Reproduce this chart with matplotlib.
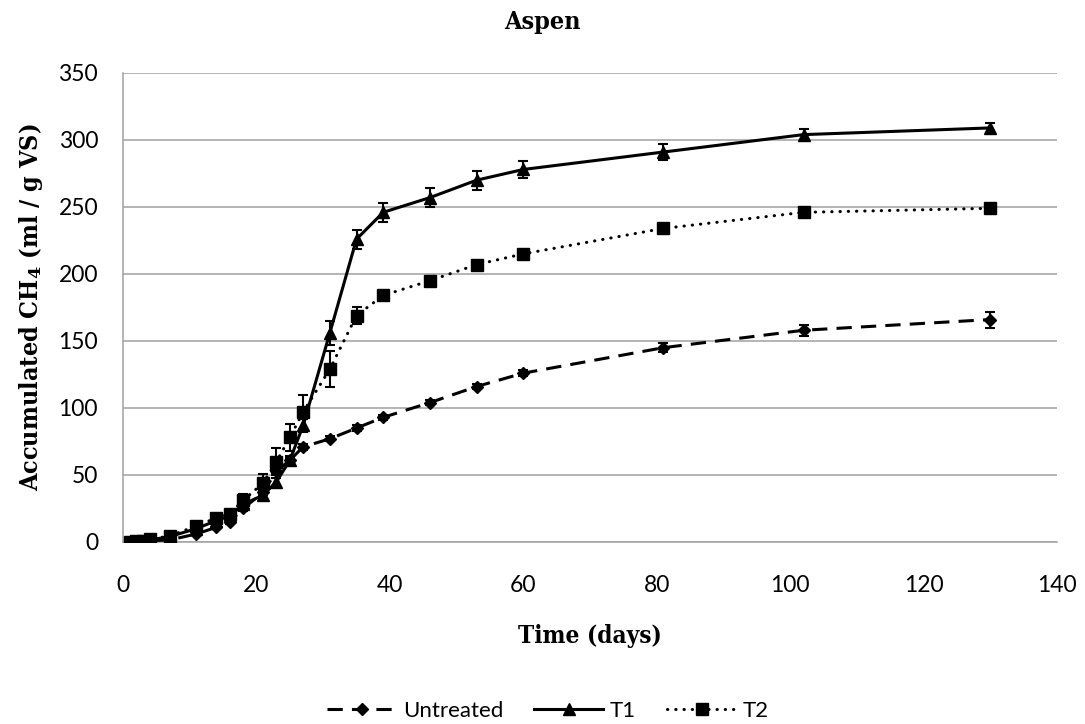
import numpy as np
import matplotlib
matplotlib.use('Agg')
import matplotlib.pyplot as plt

# sampling days
days = [1, 2, 3, 4, 7, 11, 14, 16, 18, 21, 23, 25, 27, 31, 35, 39, 46, 53, 60, 81, 102, 130]

untreated = [0, 0, 0.5, 1, 1.5, 6, 11, 15, 25, 37, 53, 61, 71, 77, 85, 93, 104, 116, 126, 145, 158, 166]
untreated_err = [0, 0, 0, 0, 0.5, 1, 1, 1.5, 2, 2, 2, 2, 2, 2, 2, 2, 2, 2, 2, 3.5, 4, 6]

t1 = [0, 0.5, 1, 1.5, 4, 10, 16, 19.5, 28, 35, 45, 61, 87, 156, 226, 246, 257, 270, 278, 291, 304, 309]
t1_err = [0, 0, 0, 0, 0.5, 1, 1, 1.5, 2, 2, 3, 3, 5, 9, 7, 7, 7, 7, 6, 6, 4, 4]

t2 = [0, 0.5, 1, 2, 4.5, 12, 18, 21, 31, 44, 60, 78, 97, 129, 169, 184, 195, 207, 215, 234, 246, 249]
t2_err = [0, 0, 0, 0, 0.5, 1, 1, 2, 5, 7, 10, 10, 13, 13.5, 6, 2, 2, 2, 2, 2, 2, 2]

plt.rcParams['mathtext.fontset'] = 'dejavuserif'

fig = plt.figure(figsize=(10.85, 7.24), dpi=100)
ax = fig.add_axes([0.1134, 0.2514, 0.8608, 0.6478])

ekw = dict(fmt='none', ecolor='k', elinewidth=1.5, capsize=3.8, capthick=1.5)

ax.errorbar(days, untreated, yerr=untreated_err, zorder=3, **ekw)
ax.errorbar(days, t1, yerr=t1_err, zorder=4, **ekw)
ax.errorbar(days, t2, yerr=t2_err, zorder=3, **ekw)

ax.plot(days, untreated, color='k', marker='D', ms=6.5, lw=2.2,
        linestyle=(0, (5, 3)), label='Untreated', zorder=3)
ax.plot(days, t1, color='k', marker='^', ms=8.5, lw=2.2,
        linestyle='-', label='T1', zorder=4)
ax.plot(days, t2, color='k', marker='s', ms=8, lw=2.2,
        linestyle=(0, (0.1, 2.6)), dash_capstyle='round', label='T2', zorder=3)

ax.set_xlim(0, 140)
ax.set_ylim(0, 350)
ax.set_xticks(np.arange(0, 141, 20))
ax.set_yticks(np.arange(0, 351, 50))
ax.grid(axis='y', color='#a0a0a0', lw=1.1)
ax.set_axisbelow(True)
for s in ['top', 'right']:
    ax.spines[s].set_visible(False)
for s in ['left', 'bottom']:
    ax.spines[s].set_color('#a0a0a0')
    ax.spines[s].set_linewidth(1.1)
ax.tick_params(axis='y', length=0, labelsize=16.5, pad=18)
ax.tick_params(axis='x', length=0, labelsize=16.5, pad=24)
for lab in ax.get_xticklabels() + ax.get_yticklabels():
    lab.set_family('Lato')

fig.text(0.5, 0.969, 'Aspen', ha='center', va='center', fontsize=18, fontweight='bold',
         family='DejaVu Serif', stretch='condensed')
ax.set_xlabel('Time (days)', fontsize=17.5, fontweight='bold', family='DejaVu Serif',
              stretch='condensed', labelpad=20)
ax.set_ylabel(r'Accumulated CH$_\mathbf{4}$ (ml / g VS)', fontsize=18, fontweight='bold',
              family='DejaVu Serif', stretch='condensed', labelpad=10)

leg = ax.legend(loc='center', bbox_to_anchor=(0.455, -0.36), ncol=3, frameon=False,
                handlelength=3.1, handletextpad=0.3, columnspacing=1.4,
                prop={'family': 'Lato', 'size': 16})

fig.savefig('out.png', dpi=100)
